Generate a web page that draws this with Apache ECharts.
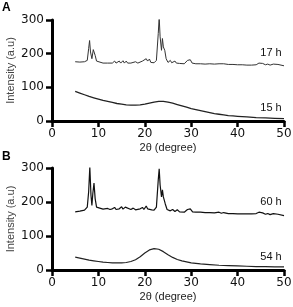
<!DOCTYPE html>
<html><head><meta charset="utf-8">
<script src="https://cdn.jsdelivr.net/npm/echarts@6/dist/echarts.min.js"></script>
<style>html,body{margin:0;padding:0;background:#fff}#c{width:293px;height:307px}</style>
</head><body><div id="c"></div>
<script>
// Panel A
const xA17 = [5,6,7,7.6,7.9,8.1,8.3,8.6,8.9,9.1,9.3,9.6,10,11,12,13,13.5,13.8,14.5,14.8,15.3,15.6,16,16.3,17,18,18.5,19.5,19.8,20.3,20.6,21,21.3,22,22.5,22.9,23.1,23.3,23.6,23.8,24,24.3,24.6,25,25.5,25.8,26.5,26.8,27.5,28.5,29.2,29.5,29.8,30.2,31,32,33,34,35,36,37,38,39,40,41,42,43,44,44.6,45,45.4,46,46.5,47,47.7,48,48.7,49,50];
const yA17 = [176,175,176,180,215,239,205,185,212,215,195,178,174,172,172,172,178,172,178,172,179,172,178,172,172,176,172,178,173,185,178,184,174,173,180,260,308,250,210,245,220,210,185,174,180,173,178,172,171,170,180,176,182,172,170,170,169,170,169,170,170,168,168,167,167,166,166,167,172,176,171,167,169,166,169,165,168,165,164];
const xA15 = [5,6,7,8,9,10,11,12,13,14,15,16,17,18,19,20,21,22,23,24,25,26,27,28,29,30,31,32,33,34,35,36,37,38,39,40,42,44,46,48,50];
const yA15 = [88,83,78,73,69,65,61,58,55,52,50,48,47,47,48,50,53,56,58,58,56,53,49,45,41,37,34,31,28,25,22,20,18,16,15,14,12,10,9,8,7];
// Panel B
const xB60 = [5,6,7,7.6,7.9,8.15,8.4,8.6,8.8,9.05,9.3,9.6,10,11,12,12.5,13,13.5,13.8,14.5,15,15.3,15.8,16.1,17,17.5,18,19,19.5,19.8,20.3,20.6,21,21.5,22,22.5,22.9,23.1,23.3,23.6,23.8,24,24.4,24.8,25.5,26,26.5,27,27.5,28.5,29.2,29.5,29.8,30.3,31,32,33,34,35,36,36.5,37,38,39,40,41,42,43,44,44.6,45,45.4,46,46.5,47,47.7,48,48.7,49,50];
const yB60 = [171,173,176,185,230,303,220,190,225,256,210,185,180,179,181,178,180,184,178,180,186,179,185,180,178,182,177,180,184,178,188,180,183,177,176,185,265,298,250,215,236,215,195,178,174,178,172,177,171,170,178,175,180,171,170,170,169,169,168,170,167,169,166,166,165,165,165,165,166,170,173,168,164,166,163,166,162,164,161,160];
const xB54 = [5,6,7,8,9,10,11,12,13,14,15,16,17,18,19,20,21,22,23,24,25,26,27,28,29,30,32,34,36,38,40,42,44,46,48,50];
const yB54 = [38,35,32,29,27,25,23,22,21,21,21,22,25,30,39,50,59,63,61,54,45,37,31,27,24,21,18,16,14,13,12,11,10,10,9,9];
const xTicks = [0,10,20,30,40,50];
const yTicks = [0,100,200,300];
const seriesLabels = ['17 h','15 h','60 h','54 h'];
const panelLabels = ['A','B'];

const zip = (xs, ys) => xs.map((x, i) => [x, ys[i]]);
const tickFont = {fontFamily:'DejaVu Sans', fontSize:12, color:'#111'};
function xAxis(i){
  return {gridIndex:i, type:'value', min:xTicks[0], max:xTicks[xTicks.length-1], interval:10,
    axisLine:{lineStyle:{color:'#000', width:3}}, axisTick:{length:6, lineStyle:{width:2.5,color:'#000'}},
    axisLabel:Object.assign({margin:7}, tickFont), splitLine:{show:false},
    name:'2θ (degree)', nameLocation:'middle', nameGap:21, nameMoveOverlap:false,
    nameTextStyle:{fontFamily:'Liberation Sans', fontSize:11, color:'#222'}};
}
function yAxis(i){
  return {gridIndex:i, type:'value', min:yTicks[0], max:yTicks[yTicks.length-1], interval:100,
    axisLine:{show:true, lineStyle:{color:'#000', width:3}}, axisTick:{show:true, length:6, lineStyle:{width:2.5,color:'#000'}},
    axisLabel:Object.assign({margin:8}, tickFont), splitLine:{show:false},
    name:'Intensity (a.u)', nameLocation:'middle', nameGap:36, nameMoveOverlap:false,
    nameTextStyle:{fontFamily:'Liberation Sans', fontSize:11, color:'#444'}};
}
function line(i, xs, ys, lbl, ly, w, col){
  return {type:'line', xAxisIndex:i, yAxisIndex:i, data:zip(xs,ys), showSymbol:false, symbol:'none',
    lineStyle:{color:col, width:w}, silent:true, animation:false,
    markPoint:{symbol:'circle', symbolSize:0, silent:true,
      data:[{coord:[47.2, ly], value:lbl}],
      label:{show:true, position:'inside', formatter:lbl, fontFamily:'Liberation Sans', fontSize:11, color:'#111'}}};
}
const chart = echarts.init(document.getElementById('c'), null, {renderer:'canvas'});
chart.setOption({
  animation:false,
  grid:[{left:52, top:20, width:232, height:101, containLabel:false, outerBoundsMode:'none'},
        {left:52, top:168, width:232, height:102, containLabel:false, outerBoundsMode:'none'}],
  xAxis:[xAxis(0), xAxis(1)],
  yAxis:[yAxis(0), yAxis(1)],
  series:[
    line(0, xA17, yA17, seriesLabels[0], 203, 1, '#333'),
    line(0, xA15, yA15, seriesLabels[1], 40, 1.3, '#222'),
    line(1, xB60, yB60, seriesLabels[2], 200, 1.2, '#111'),
    line(1, xB54, yB54, seriesLabels[3], 38, 1.2, '#222')
  ],
  graphic:[
    {type:'text', left:2, top:2, style:{text:panelLabels[0], font:'bold 12px Liberation Sans', fill:'#000'}},
    {type:'text', left:2, top:151, style:{text:panelLabels[1], font:'bold 12px Liberation Sans', fill:'#000'}}
  ]
});
</script></body></html>
